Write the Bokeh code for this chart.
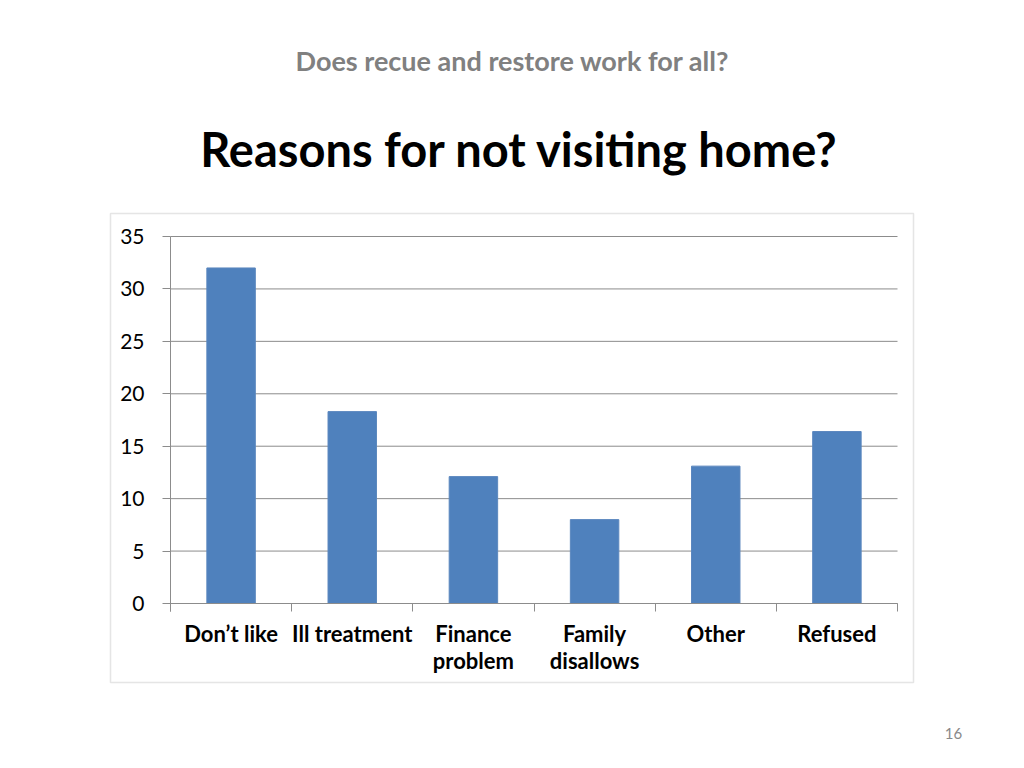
from bokeh.plotting import figure
from bokeh.models import FixedTicker, Label, BoxAnnotation, Range1d, LinearAxis
from bokeh.embed import file_html
from bokeh.resources import INLINE

# ---- data ----
categories = ["Don\u2019t like", "Ill treatment", "Finance\nproblem", "Family\ndisallows", "Other", "Refused"]
values = [32, 18.3, 12.1, 8.0, 13.1, 16.4]
y_ticks = [0, 5, 10, 15, 20, 25, 30, 35]
supertitle = "Does recue and restore work for all?"
title = "Reasons for not visiting home?"
page_number = "16"

# ---- geometry (page pixels) ----
W, H = 1008, 752
FL, FR, FT, FB = 170, 897, 236, 603   # plot-area edges in page pixels
n = len(categories)
YMAX = 35

def px_x(px):
    return (px - FL) / (FR - FL) * n

def px_y(py):
    return (FB - py) / (FB - FT) * YMAX

p = figure(width=W, height=H, output_backend="svg", toolbar_location=None,
           x_range=Range1d(px_x(0), px_x(W)), y_range=Range1d(px_y(H), px_y(0)),
           x_axis_location=None, y_axis_location=None,
           min_border=0, min_border_left=0, min_border_right=0,
           min_border_top=0, min_border_bottom=0)
p.outline_line_color = None
p.background_fill_color = "white"
p.border_fill_color = "white"
p.xgrid.visible = False
p.ygrid.visible = False

centers = [i + 0.5 for i in range(n)]

# chart border box
p.add_layout(BoxAnnotation(left=px_x(110), right=px_x(913), top=px_y(213), bottom=px_y(682),
                           fill_color="white", fill_alpha=1.0, line_color="#A9A9A9",
                           line_width=1.5, level="underlay"))

# horizontal gridlines at the y ticks across the plot area
p.segment(x0=[0] * len(y_ticks), x1=[n] * len(y_ticks), y0=y_ticks, y1=y_ticks,
          line_color="#8C8C8C", line_width=1)

p.vbar(x=centers, top=values, width=0.4, bottom=0,
       fill_color="#4F81BD", line_color="#5B87BE", line_width=1)

# y axis
ya = LinearAxis(fixed_location=0, bounds=(px_y(611), YMAX))
ya.ticker = FixedTicker(ticks=y_ticks)
ya.axis_line_color = "#8C8C8C"
ya.major_tick_line_color = "#8C8C8C"
ya.major_tick_in = 0
ya.major_tick_out = 8
ya.minor_tick_line_color = None
ya.major_label_standoff = 18
ya.major_label_text_font = "Lato"
ya.major_label_text_font_size = "21px"
ya.major_label_text_color = "#000000"
p.add_layout(ya, "left")

# x axis
xa = LinearAxis(fixed_location=0, bounds=(0, n))
xa.ticker = FixedTicker(ticks=centers, minor_ticks=list(range(n + 1)))
xa.major_label_overrides = {c: lab for c, lab in zip(centers, categories)}
xa.axis_line_color = "#8C8C8C"
xa.major_tick_line_color = None
xa.minor_tick_line_color = "#8C8C8C"
xa.minor_tick_in = 0
xa.minor_tick_out = 8
xa.major_label_standoff = 8
xa.major_label_text_font = "Lato"
xa.major_label_text_font_style = "bold"
xa.major_label_text_font_size = "22px"
xa.major_label_text_color = "#000000"
xa.major_label_text_line_height = 1.0
p.add_layout(xa, "below")

p.add_layout(Label(x=px_x(512), y=px_y(60), text=supertitle, text_align="center",
                   text_baseline="middle", text_font="Lato", text_font_style="bold",
                   text_font_size="27px", text_color="#808080"))
p.add_layout(Label(x=px_x(519), y=px_y(148), text=title, text_align="center",
                   text_baseline="middle", text_font="Lato", text_font_style="bold",
                   text_font_size="47px", text_color="#000000"))
p.add_layout(Label(x=px_x(953), y=px_y(733), text=page_number, text_align="center",
                   text_baseline="middle", text_font="Lato",
                   text_font_size="15px", text_color="#898989"))

open("out.html", "w").write(file_html(p, INLINE))
